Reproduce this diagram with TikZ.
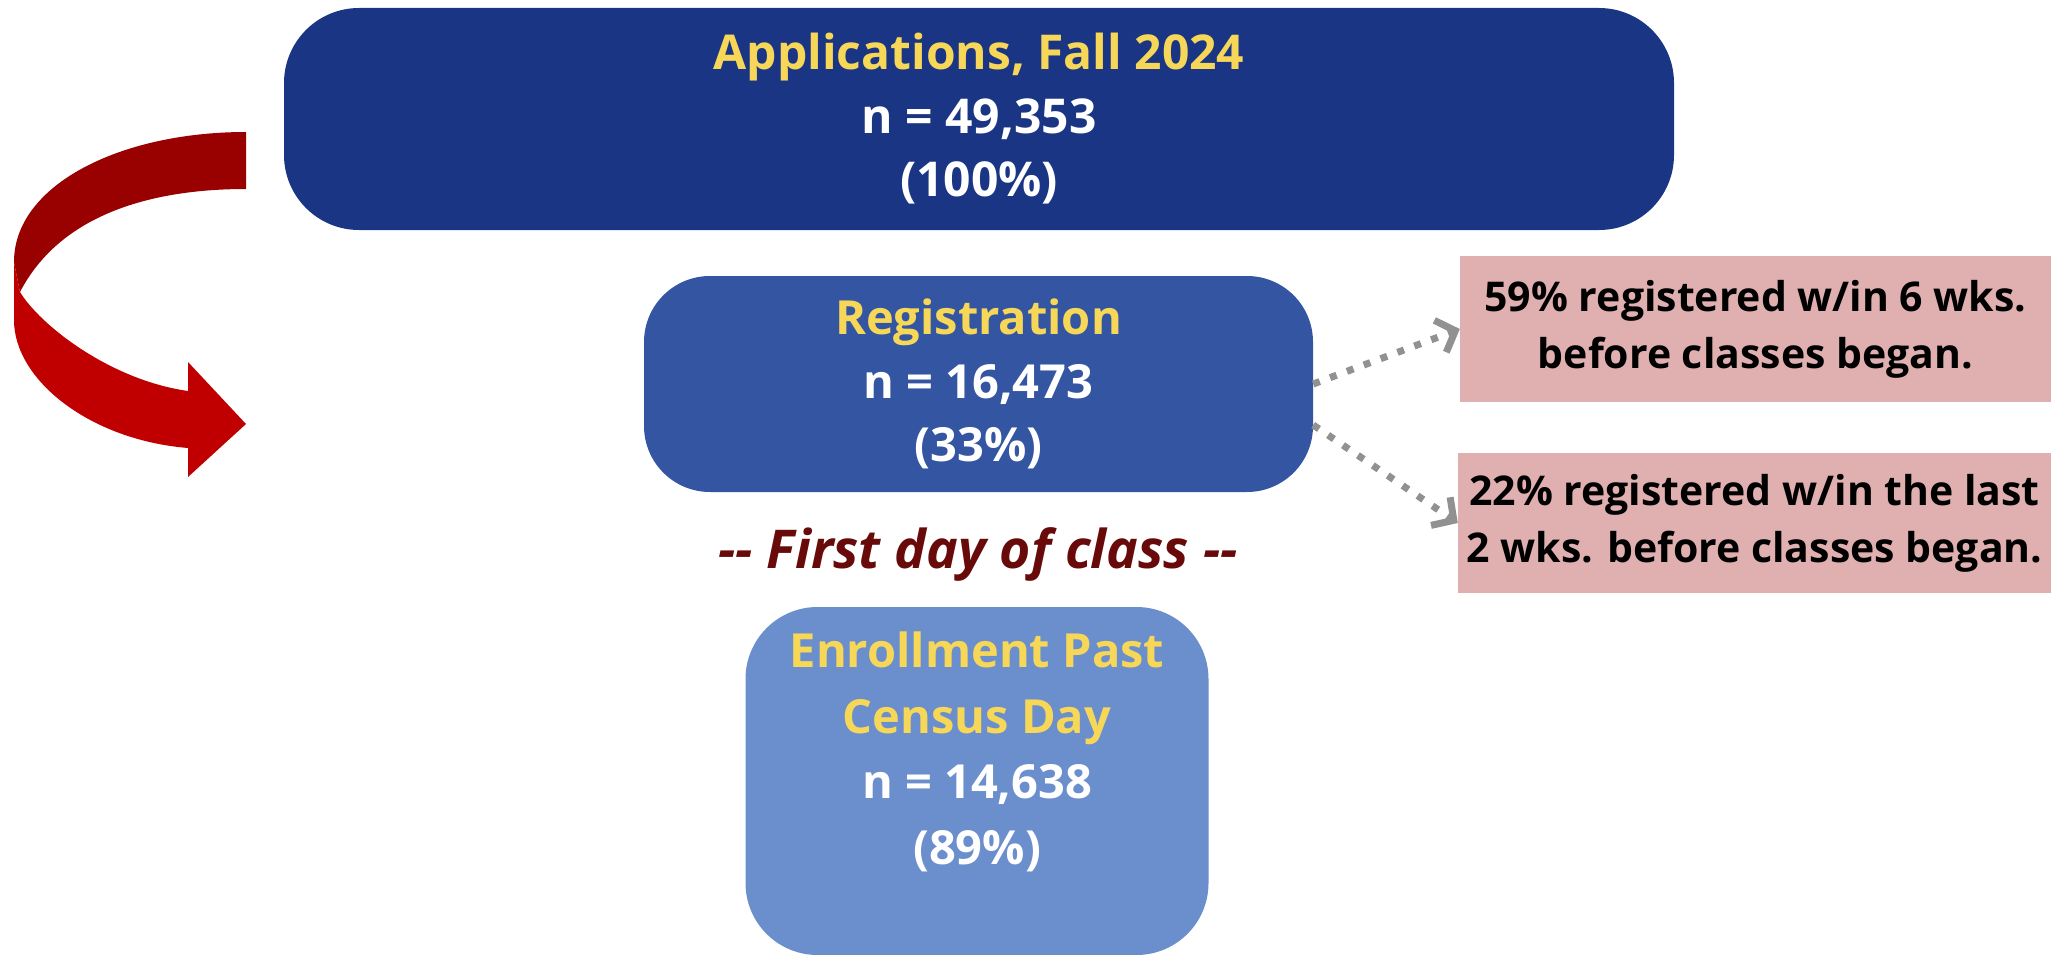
\documentclass[tikz,border=0pt]{standalone}
\usepackage{fontspec}
\setmainfont{Open Sans}
\usetikzlibrary{arrows.meta}

\definecolor{appblue}{RGB}{27,53,133}
\definecolor{regblue}{RGB}{52,85,161}
\definecolor{enrblue}{RGB}{107,142,204}
\definecolor{gold}{RGB}{247,215,88}
\definecolor{notepink}{RGB}{224,175,175}
\definecolor{ribbondark}{RGB}{153,0,0}
\definecolor{ribbonlight}{RGB}{192,0,0}
\definecolor{maroon}{RGB}{105,10,10}
\definecolor{dotgray}{RGB}{145,145,145}

\begin{document}
\begin{tikzpicture}[x=1pt,y=-1pt,
  stage/.style={rounded corners=#1, inner sep=0pt, align=center, text=white,
    font=\bfseries\fontsize{47}{63.5}\selectfont},
  stagetext/.style={inner sep=0pt, align=center, text=white,
    font=\bfseries\fontsize{47}{65.5}\selectfont},
  note/.style={fill=notepink, inner sep=0pt, align=center, text=black,
    font=\bfseries\fontsize{41}{57}\selectfont},
  milestone/.style={inner sep=0pt, text=maroon,
    font=\bfseries\itshape\fontsize{53.5}{60}\selectfont},
  dotarrow/.style={draw=dotgray, line width=7pt, dash pattern=on 7pt off 11pt,
    -{Straight Barb[length=16pt,width=34pt,line width=7pt]}}
]
\useasboundingbox (0,0) rectangle (2051,955);

% curved ribbon arrow on the left
\fill[ribbondark] (246,132) .. controls (120,132) and (14,185) .. (14,262)
  -- (20,292) .. controls (60,215) and (150,189) .. (246,189) -- cycle;
\fill[ribbonlight] (14,262) -- (14,320) .. controls (14,380) and (90,440) .. (188,448)
  -- (188,477) -- (246,424) -- (188,362) -- (188,391)
  .. controls (110,380) and (40,325) .. (20,292) -- cycle;

% funnel stages
\node[stage=75pt, fill=appblue, minimum width=1390pt, minimum height=222pt,
  font=\bfseries\fontsize{48}{63.5}\selectfont] (app) at (979,119)
  {\textcolor{gold}{Applications, Fall 2024}\\ n = 49,353\\ (100\%)};

\node[stage=66pt, fill=regblue, minimum width=669pt, minimum height=216pt] (reg) at (978.5,384)
  {\textcolor{gold}{Registration}\\ n = 16,473\\ (33\%)};

\node[milestone, anchor=base] (firstday) at (978,568) {-{}- First day of class -{}-};

\node[stage=72pt, fill=enrblue, minimum width=463pt, minimum height=348pt] (enr) at (977,781) {};
\node[stagetext] (enrtext) at (977,752)
  {\textcolor{gold}{Enrollment Past}\\ \textcolor{gold}{Census Day}\\ n = 14,638\\ (89\%)};

% timing notes
\node[note, minimum width=591pt, minimum height=146pt] (note1) at (1755.5,329)
  {59\% registered w/in 6 wks.\\ before classes began.};
\node[note, minimum width=593pt, minimum height=140pt] (note2) at (1754.5,523)
  {22\% registered w/in the last\\ 2 wks. before classes began.};

\draw[dotarrow] (reg.east) -- (note1.west);
\draw[dotarrow] ([yshift=-41pt]reg.east) -- (note2.west);
\end{tikzpicture}
\end{document}
